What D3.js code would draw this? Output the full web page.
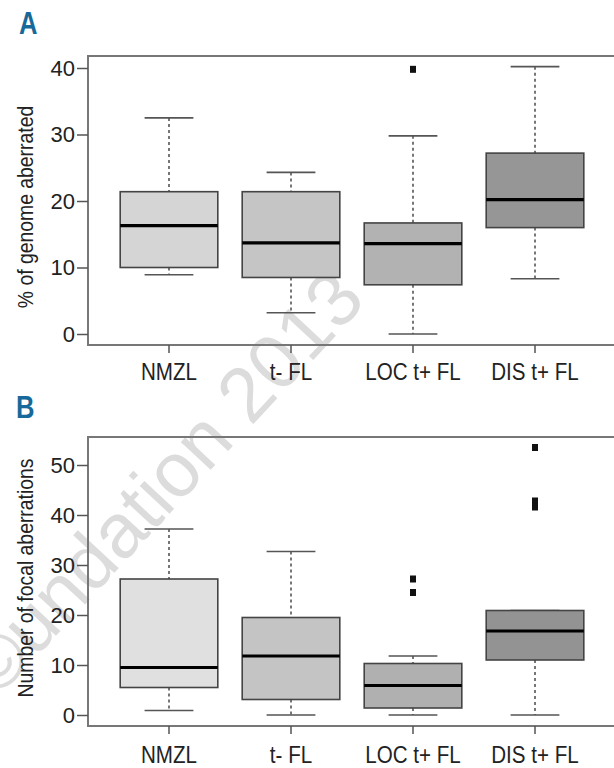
<!DOCTYPE html>
<html>
<head>
<meta charset="utf-8">
<script src="https://cdn.jsdelivr.net/npm/d3@7"></script>
<style>
  body { margin: 0; background: #fff; }
  text { font-family: "Liberation Sans", Arial, sans-serif; fill: #222; }
  .ejes text { font-size: 22px; fill: #222; }
  .ejes line { stroke: #555; stroke-width: 1.5; }
  .ejes path { display: none; }
</style>
</head>
<body>
<div id="graf"></div>
<script>
const groups = ["NMZL", "t- FL", "LOC t+ FL", "DIS t+ FL"]

// A: % of genome aberrated
const genomeLow = [8.9, 3.2, 0, 8.3]
const genomeQ1 = [10.0, 8.5, 7.4, 16.0]
const genomeMed = [16.3, 13.7, 13.6, 20.2]
const genomeQ3 = [21.4, 21.4, 16.7, 27.2]
const genomeHigh = [32.5, 24.3, 29.8, 40.2]
const genomeOut = [[], [], [39.8], []]
const genomeTicks = [0, 10, 20, 30, 40]

// B: number of focal aberrations
const focalLow = [0.9, 0, 0, 0]
const focalQ1 = [5.5, 3.1, 1.4, 11.0]
const focalMed = [9.5, 11.8, 5.9, 16.8]
const focalQ3 = [27.2, 19.5, 10.3, 20.9]
const focalHigh = [37.2, 32.7, 11.8, 20.9]
const focalOut = [[], [], [27.2, 24.5], [53.5, 42.8, 41.6]]
const focalTicks = [0, 10, 20, 30, 40, 50]

const fillsA = ["#d5d5d5", "#c5c5c5", "#b2b2b2", "#969696"]
const fillsB = ["#e0e0e0", "#c4c4c4", "#b0b0b0", "#939393"]

const anchoTotal = 614
const altoTotal = 768

const svg = d3.select("#graf")
  .append("svg")
  .attr("width", anchoTotal)
  .attr("height", altoTotal)

// the reference uses a condensed face, so squeeze the glyphs a bit
const squeeze = (sel, f) => {
  sel.each(function () {
    const w = this.getComputedTextLength()
    d3.select(this).attr("textLength", w * f).attr("lengthAdjust", "spacingAndGlyphs")
  })
}

// watermark, sits behind everything
svg.append("text")
  .attr("transform", "translate(-4, 700) rotate(-47)")
  .style("font-size", "77px")
  .style("fill", "#dcdcdc")
  .text("©undation 2013")

const x = d3.scaleBand().domain(groups).range([108, 596]).padding(0)

const panel = (p) => {
  const g = svg.append("g")
  const y = d3.scaleLinear().domain(p.domain).range(p.range)

  // frame: left, top and bottom lines
  g.append("path")
    .attr("d", `M${anchoTotal},${p.top}H88V${p.bottom}H${anchoTotal}`)
    .attr("fill", "none")
    .attr("stroke", "#777")
    .attr("stroke-width", 2)

  g.append("g")
    .attr("class", "ejes")
    .attr("transform", "translate(88, 0)")
    .call(d3.axisLeft(y).tickValues(p.ticks).tickSize(11).tickPadding(2))

  g.append("g")
    .attr("class", "ejes")
    .attr("transform", `translate(0, ${p.bottom})`)
    .call(d3.axisBottom(x).tickSize(8).tickPadding(p.pad))
    .selectAll("text")
    .style("font-size", "24.5px")
    .call(squeeze, 0.84)

  g.append("text")
    .attr("transform", `translate(33, ${p.labelY}) rotate(-90)`)
    .attr("text-anchor", "middle")
    .style("font-size", "22px")
    .text(p.label)
    .call(squeeze, 0.88)

  g.append("text")
    .attr("x", p.letterX)
    .attr("y", p.letterY)
    .style("font-size", "32px")
    .style("font-weight", "bold")
    .style("fill", "#17699a")
    .text(p.letter)
    .call(squeeze, 0.8)

  const bw = x.bandwidth() * 0.8
  const cw = x.bandwidth() * 0.4
  const data = groups.map((k, i) => ({
    k, low: p.low[i], q1: p.q1[i], med: p.med[i], q3: p.q3[i], high: p.high[i], out: p.out[i], fill: p.fills[i]
  }))

  const box = g.selectAll(".box").data(data).enter().append("g").attr("class", "box")
  const cx = (d) => x(d.k) + x.bandwidth() / 2

  // whiskers
  box.append("line")
    .attr("x1", cx).attr("x2", cx)
    .attr("y1", (d) => y(d.high)).attr("y2", (d) => y(d.q3))
    .attr("stroke", "#555").attr("stroke-width", 1.6).attr("stroke-dasharray", "3,3")
  box.append("line")
    .attr("x1", cx).attr("x2", cx)
    .attr("y1", (d) => y(d.q1)).attr("y2", (d) => y(d.low))
    .attr("stroke", "#555").attr("stroke-width", 1.6).attr("stroke-dasharray", "3,3")
  box.append("line")
    .attr("x1", (d) => cx(d) - cw / 2).attr("x2", (d) => cx(d) + cw / 2)
    .attr("y1", (d) => y(d.high)).attr("y2", (d) => y(d.high))
    .attr("stroke", "#555").attr("stroke-width", 1.6)
  box.append("line")
    .attr("x1", (d) => cx(d) - cw / 2).attr("x2", (d) => cx(d) + cw / 2)
    .attr("y1", (d) => y(d.low)).attr("y2", (d) => y(d.low))
    .attr("stroke", "#555").attr("stroke-width", 1.6)

  box.append("rect")
    .attr("x", (d) => cx(d) - bw / 2)
    .attr("width", bw)
    .attr("y", (d) => y(d.q3))
    .attr("height", (d) => y(d.q1) - y(d.q3))
    .attr("fill", (d) => d.fill)
    .attr("stroke", "#444")
    .attr("stroke-width", 1.6)

  box.append("line")
    .attr("x1", (d) => cx(d) - bw / 2).attr("x2", (d) => cx(d) + bw / 2)
    .attr("y1", (d) => y(d.med)).attr("y2", (d) => y(d.med))
    .attr("stroke", "#000").attr("stroke-width", 3.2)

  box.selectAll(".out")
    .data((d) => d.out.map((v) => ({ v, c: cx(d) })))
    .enter()
    .append("rect")
    .attr("x", (o) => o.c - 3)
    .attr("y", (o) => y(o.v) - 3.5)
    .attr("width", 6)
    .attr("height", 7)
    .attr("fill", "#111")
}

panel({
  domain: [0, 40], range: [334, 68], top: 56, bottom: 345, ticks: genomeTicks, pad: 10,
  label: "% of genome aberrated", labelY: 207, letter: "A", letterX: 19, letterY: 34,
  low: genomeLow, q1: genomeQ1, med: genomeMed, q3: genomeQ3, high: genomeHigh, out: genomeOut, fills: fillsA
})

panel({
  domain: [0, 50], range: [715, 465], top: 437, bottom: 726, ticks: focalTicks, pad: 12,
  label: "Number of focal aberrations", labelY: 578, letter: "B", letterX: 16, letterY: 418,
  low: focalLow, q1: focalQ1, med: focalMed, q3: focalQ3, high: focalHigh, out: focalOut, fills: fillsB
})
</script>
</body>
</html>
